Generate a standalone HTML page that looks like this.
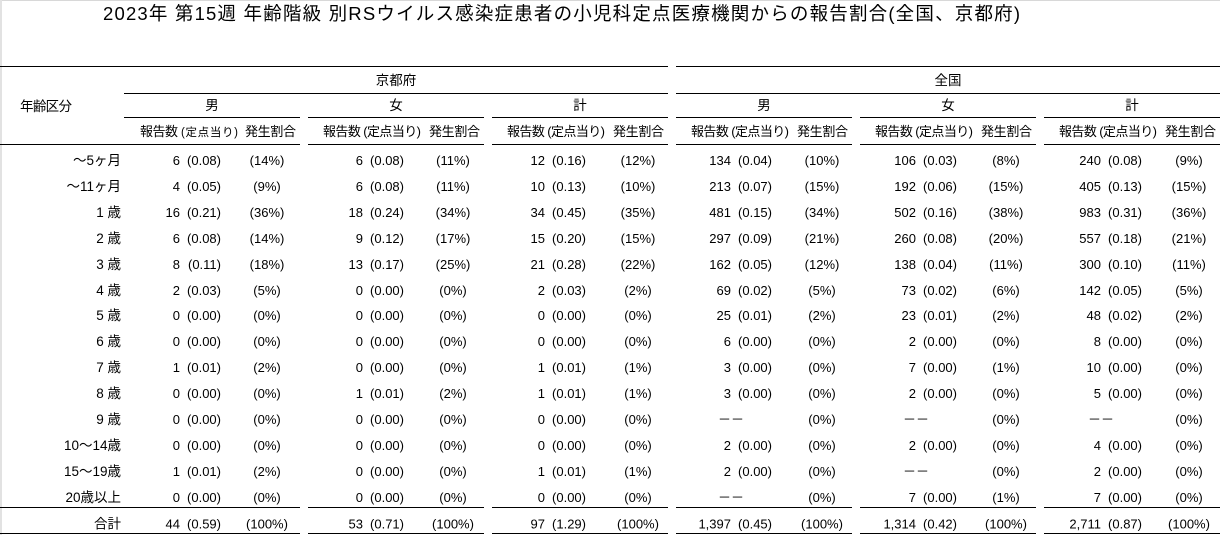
<!DOCTYPE html>
<html>
<head>
<meta charset="utf-8">
<style>
html,body{margin:0;padding:0;background:#fff;width:1220px;height:535px;overflow:hidden}
svg{display:block}
text{font-family:"Liberation Sans","Noto Sans CJK JP",sans-serif;font-size:13px;fill:#000}
.e{text-anchor:end}
.m{text-anchor:middle}
.j{font-size:13.5px}
</style>
</head>
<body>
<svg width="1220" height="535" viewBox="0 0 1220 535" xmlns="http://www.w3.org/2000/svg">
<rect x="0" y="0" width="1220" height="535" fill="#fff"/>
<rect x="0" y="0" width="1220" height="1" fill="#d8d8d8"/>
<rect x="0" y="0" width="2" height="535" fill="#e2e2e2"/>

<text x="103" y="20" style="font-size:18.5px" textLength="917">2023年 第15週 年齢階級 別RSウイルス感染症患者の小児科定点医療機関からの報告割合(全国、京都府)</text>

<!-- lines -->
<g fill="#000">
<rect x="0" y="66" width="668" height="1"/><rect x="676" y="66" width="544" height="1"/>
<rect x="124" y="93" width="544" height="1"/><rect x="676" y="93" width="544" height="1"/>
<rect x="124" y="117" width="176" height="1"/><rect x="308" y="117" width="176" height="1"/><rect x="492" y="117" width="176" height="1"/><rect x="676" y="117" width="176" height="1"/><rect x="860" y="117" width="176" height="1"/><rect x="1044" y="117" width="176" height="1"/>
<rect x="0" y="144" width="300" height="1"/><rect x="308" y="144" width="176" height="1"/><rect x="492" y="144" width="176" height="1"/><rect x="676" y="144" width="176" height="1"/><rect x="860" y="144" width="176" height="1"/><rect x="1044" y="144" width="176" height="1"/>
<rect x="0" y="507" width="300" height="1"/><rect x="308" y="507" width="176" height="1"/><rect x="492" y="507" width="176" height="1"/><rect x="676" y="507" width="176" height="1"/><rect x="860" y="507" width="176" height="1"/><rect x="1044" y="507" width="176" height="1"/>
<rect x="0" y="533" width="300" height="1"/><rect x="308" y="533" width="176" height="1"/><rect x="492" y="533" width="176" height="1"/><rect x="676" y="533" width="176" height="1"/><rect x="860" y="533" width="176" height="1"/><rect x="1044" y="533" width="176" height="1"/>
</g>

<!-- headers -->
<text class="j" x="20" y="111" textLength="52">年齢区分</text>
<text class="m j" x="396" y="85">京都府</text>
<text class="m j" x="948" y="85">全国</text>
<text class="m j" x="212" y="110">男</text>
<text class="m j" x="396" y="110">女</text>
<text class="m j" x="580" y="110">計</text>
<text class="m j" x="764" y="110">男</text>
<text class="m j" x="948" y="110">女</text>
<text class="m j" x="1132" y="110">計</text>

<g transform="translate(0,136)">
<text x="140" textLength="38">報告数</text><text x="181" style="font-size:11.5px" textLength="57">(定点当り)</text><text x="245" textLength="51">発生割合</text>
<text x="323" textLength="98">報告数 (定点当り)</text><text x="429" textLength="51">発生割合</text>
<text x="507" textLength="98">報告数 (定点当り)</text><text x="613" textLength="51">発生割合</text>
<text x="691" textLength="98">報告数 (定点当り)</text><text x="797" textLength="51">発生割合</text>
<text x="875" textLength="98">報告数 (定点当り)</text><text x="981" textLength="51">発生割合</text>
<text x="1059" textLength="98">報告数 (定点当り)</text><text x="1165" textLength="51">発生割合</text>
</g>

<!-- row 0 -->
<g transform="translate(0,165)">
<text class="e j" x="121">～5ヶ月</text>
<text class="e" x="180">6</text><text class="e" x="221">(0.08)</text><text class="m" x="267">(14%)</text>
<text class="e" x="363">6</text><text class="e" x="404">(0.08)</text><text class="m" x="453">(11%)</text>
<text class="e" x="545">12</text><text class="e" x="586">(0.16)</text><text class="m" x="638">(12%)</text>
<text class="e" x="731">134</text><text class="e" x="772">(0.04)</text><text class="m" x="822">(10%)</text>
<text class="e" x="916">106</text><text class="e" x="957">(0.03)</text><text class="m" x="1006">(8%)</text>
<text class="e" x="1101">240</text><text class="e" x="1142">(0.08)</text><text class="m" x="1189">(9%)</text>
</g>
<!-- row 1 -->
<g transform="translate(0,191)">
<text class="e j" x="121">～11ヶ月</text>
<text class="e" x="180">4</text><text class="e" x="221">(0.05)</text><text class="m" x="267">(9%)</text>
<text class="e" x="363">6</text><text class="e" x="404">(0.08)</text><text class="m" x="453">(11%)</text>
<text class="e" x="545">10</text><text class="e" x="586">(0.13)</text><text class="m" x="638">(10%)</text>
<text class="e" x="731">213</text><text class="e" x="772">(0.07)</text><text class="m" x="822">(15%)</text>
<text class="e" x="916">192</text><text class="e" x="957">(0.06)</text><text class="m" x="1006">(15%)</text>
<text class="e" x="1101">405</text><text class="e" x="1142">(0.13)</text><text class="m" x="1189">(15%)</text>
</g>
<!-- row 2 -->
<g transform="translate(0,217)">
<text class="e j" x="121">1 歳</text>
<text class="e" x="180">16</text><text class="e" x="221">(0.21)</text><text class="m" x="267">(36%)</text>
<text class="e" x="363">18</text><text class="e" x="404">(0.24)</text><text class="m" x="453">(34%)</text>
<text class="e" x="545">34</text><text class="e" x="586">(0.45)</text><text class="m" x="638">(35%)</text>
<text class="e" x="731">481</text><text class="e" x="772">(0.15)</text><text class="m" x="822">(34%)</text>
<text class="e" x="916">502</text><text class="e" x="957">(0.16)</text><text class="m" x="1006">(38%)</text>
<text class="e" x="1101">983</text><text class="e" x="1142">(0.31)</text><text class="m" x="1189">(36%)</text>
</g>
<!-- row 3 -->
<g transform="translate(0,243)">
<text class="e j" x="121">2 歳</text>
<text class="e" x="180">6</text><text class="e" x="221">(0.08)</text><text class="m" x="267">(14%)</text>
<text class="e" x="363">9</text><text class="e" x="404">(0.12)</text><text class="m" x="453">(17%)</text>
<text class="e" x="545">15</text><text class="e" x="586">(0.20)</text><text class="m" x="638">(15%)</text>
<text class="e" x="731">297</text><text class="e" x="772">(0.09)</text><text class="m" x="822">(21%)</text>
<text class="e" x="916">260</text><text class="e" x="957">(0.08)</text><text class="m" x="1006">(20%)</text>
<text class="e" x="1101">557</text><text class="e" x="1142">(0.18)</text><text class="m" x="1189">(21%)</text>
</g>
<!-- row 4 -->
<g transform="translate(0,269)">
<text class="e j" x="121">3 歳</text>
<text class="e" x="180">8</text><text class="e" x="221">(0.11)</text><text class="m" x="267">(18%)</text>
<text class="e" x="363">13</text><text class="e" x="404">(0.17)</text><text class="m" x="453">(25%)</text>
<text class="e" x="545">21</text><text class="e" x="586">(0.28)</text><text class="m" x="638">(22%)</text>
<text class="e" x="731">162</text><text class="e" x="772">(0.05)</text><text class="m" x="822">(12%)</text>
<text class="e" x="916">138</text><text class="e" x="957">(0.04)</text><text class="m" x="1006">(11%)</text>
<text class="e" x="1101">300</text><text class="e" x="1142">(0.10)</text><text class="m" x="1189">(11%)</text>
</g>
<!-- row 5 -->
<g transform="translate(0,295)">
<text class="e j" x="121">4 歳</text>
<text class="e" x="180">2</text><text class="e" x="221">(0.03)</text><text class="m" x="267">(5%)</text>
<text class="e" x="363">0</text><text class="e" x="404">(0.00)</text><text class="m" x="453">(0%)</text>
<text class="e" x="545">2</text><text class="e" x="586">(0.03)</text><text class="m" x="638">(2%)</text>
<text class="e" x="731">69</text><text class="e" x="772">(0.02)</text><text class="m" x="822">(5%)</text>
<text class="e" x="916">73</text><text class="e" x="957">(0.02)</text><text class="m" x="1006">(6%)</text>
<text class="e" x="1101">142</text><text class="e" x="1142">(0.05)</text><text class="m" x="1189">(5%)</text>
</g>
<!-- row 6 -->
<g transform="translate(0,320)">
<text class="e j" x="121">5 歳</text>
<text class="e" x="180">0</text><text class="e" x="221">(0.00)</text><text class="m" x="267">(0%)</text>
<text class="e" x="363">0</text><text class="e" x="404">(0.00)</text><text class="m" x="453">(0%)</text>
<text class="e" x="545">0</text><text class="e" x="586">(0.00)</text><text class="m" x="638">(0%)</text>
<text class="e" x="731">25</text><text class="e" x="772">(0.01)</text><text class="m" x="822">(2%)</text>
<text class="e" x="916">23</text><text class="e" x="957">(0.01)</text><text class="m" x="1006">(2%)</text>
<text class="e" x="1101">48</text><text class="e" x="1142">(0.02)</text><text class="m" x="1189">(2%)</text>
</g>
<!-- row 7 -->
<g transform="translate(0,346)">
<text class="e j" x="121">6 歳</text>
<text class="e" x="180">0</text><text class="e" x="221">(0.00)</text><text class="m" x="267">(0%)</text>
<text class="e" x="363">0</text><text class="e" x="404">(0.00)</text><text class="m" x="453">(0%)</text>
<text class="e" x="545">0</text><text class="e" x="586">(0.00)</text><text class="m" x="638">(0%)</text>
<text class="e" x="731">6</text><text class="e" x="772">(0.00)</text><text class="m" x="822">(0%)</text>
<text class="e" x="916">2</text><text class="e" x="957">(0.00)</text><text class="m" x="1006">(0%)</text>
<text class="e" x="1101">8</text><text class="e" x="1142">(0.00)</text><text class="m" x="1189">(0%)</text>
</g>
<!-- row 8 -->
<g transform="translate(0,372)">
<text class="e j" x="121">7 歳</text>
<text class="e" x="180">1</text><text class="e" x="221">(0.01)</text><text class="m" x="267">(2%)</text>
<text class="e" x="363">0</text><text class="e" x="404">(0.00)</text><text class="m" x="453">(0%)</text>
<text class="e" x="545">1</text><text class="e" x="586">(0.01)</text><text class="m" x="638">(1%)</text>
<text class="e" x="731">3</text><text class="e" x="772">(0.00)</text><text class="m" x="822">(0%)</text>
<text class="e" x="916">7</text><text class="e" x="957">(0.00)</text><text class="m" x="1006">(1%)</text>
<text class="e" x="1101">10</text><text class="e" x="1142">(0.00)</text><text class="m" x="1189">(0%)</text>
</g>
<!-- row 9 -->
<g transform="translate(0,398)">
<text class="e j" x="121">8 歳</text>
<text class="e" x="180">0</text><text class="e" x="221">(0.00)</text><text class="m" x="267">(0%)</text>
<text class="e" x="363">1</text><text class="e" x="404">(0.01)</text><text class="m" x="453">(2%)</text>
<text class="e" x="545">1</text><text class="e" x="586">(0.01)</text><text class="m" x="638">(1%)</text>
<text class="e" x="731">3</text><text class="e" x="772">(0.00)</text><text class="m" x="822">(0%)</text>
<text class="e" x="916">2</text><text class="e" x="957">(0.00)</text><text class="m" x="1006">(0%)</text>
<text class="e" x="1101">5</text><text class="e" x="1142">(0.00)</text><text class="m" x="1189">(0%)</text>
</g>
<!-- row 10 -->
<g transform="translate(0,424)">
<text class="e j" x="121">9 歳</text>
<text class="e" x="180">0</text><text class="e" x="221">(0.00)</text><text class="m" x="267">(0%)</text>
<text class="e" x="363">0</text><text class="e" x="404">(0.00)</text><text class="m" x="453">(0%)</text>
<text class="e" x="545">0</text><text class="e" x="586">(0.00)</text><text class="m" x="638">(0%)</text>
<text class="m" x="731">－－</text><text class="m" x="822">(0%)</text>
<text class="m" x="916">－－</text><text class="m" x="1006">(0%)</text>
<text class="m" x="1101">－－</text><text class="m" x="1189">(0%)</text>
</g>
<!-- row 11 -->
<g transform="translate(0,450)">
<text class="e j" x="121">10～14歳</text>
<text class="e" x="180">0</text><text class="e" x="221">(0.00)</text><text class="m" x="267">(0%)</text>
<text class="e" x="363">0</text><text class="e" x="404">(0.00)</text><text class="m" x="453">(0%)</text>
<text class="e" x="545">0</text><text class="e" x="586">(0.00)</text><text class="m" x="638">(0%)</text>
<text class="e" x="731">2</text><text class="e" x="772">(0.00)</text><text class="m" x="822">(0%)</text>
<text class="e" x="916">2</text><text class="e" x="957">(0.00)</text><text class="m" x="1006">(0%)</text>
<text class="e" x="1101">4</text><text class="e" x="1142">(0.00)</text><text class="m" x="1189">(0%)</text>
</g>
<!-- row 12 -->
<g transform="translate(0,476)">
<text class="e j" x="121">15～19歳</text>
<text class="e" x="180">1</text><text class="e" x="221">(0.01)</text><text class="m" x="267">(2%)</text>
<text class="e" x="363">0</text><text class="e" x="404">(0.00)</text><text class="m" x="453">(0%)</text>
<text class="e" x="545">1</text><text class="e" x="586">(0.01)</text><text class="m" x="638">(1%)</text>
<text class="e" x="731">2</text><text class="e" x="772">(0.00)</text><text class="m" x="822">(0%)</text>
<text class="m" x="916">－－</text><text class="m" x="1006">(0%)</text>
<text class="e" x="1101">2</text><text class="e" x="1142">(0.00)</text><text class="m" x="1189">(0%)</text>
</g>
<!-- row 13 -->
<g transform="translate(0,502)">
<text class="e j" x="121">20歳以上</text>
<text class="e" x="180">0</text><text class="e" x="221">(0.00)</text><text class="m" x="267">(0%)</text>
<text class="e" x="363">0</text><text class="e" x="404">(0.00)</text><text class="m" x="453">(0%)</text>
<text class="e" x="545">0</text><text class="e" x="586">(0.00)</text><text class="m" x="638">(0%)</text>
<text class="m" x="731">－－</text><text class="m" x="822">(0%)</text>
<text class="e" x="916">7</text><text class="e" x="957">(0.00)</text><text class="m" x="1006">(1%)</text>
<text class="e" x="1101">7</text><text class="e" x="1142">(0.00)</text><text class="m" x="1189">(0%)</text>
</g>
<!-- total -->
<g transform="translate(0,528.5)">
<text class="e j" x="121">合計</text>
<text class="e" x="180">44</text><text class="e" x="221">(0.59)</text><text class="m" x="267">(100%)</text>
<text class="e" x="363">53</text><text class="e" x="404">(0.71)</text><text class="m" x="453">(100%)</text>
<text class="e" x="545">97</text><text class="e" x="586">(1.29)</text><text class="m" x="638">(100%)</text>
<text class="e" x="731">1,397</text><text class="e" x="772">(0.45)</text><text class="m" x="822">(100%)</text>
<text class="e" x="916">1,314</text><text class="e" x="957">(0.42)</text><text class="m" x="1006">(100%)</text>
<text class="e" x="1101">2,711</text><text class="e" x="1142">(0.87)</text><text class="m" x="1189">(100%)</text>
</g>
</svg>
</body>
</html>
